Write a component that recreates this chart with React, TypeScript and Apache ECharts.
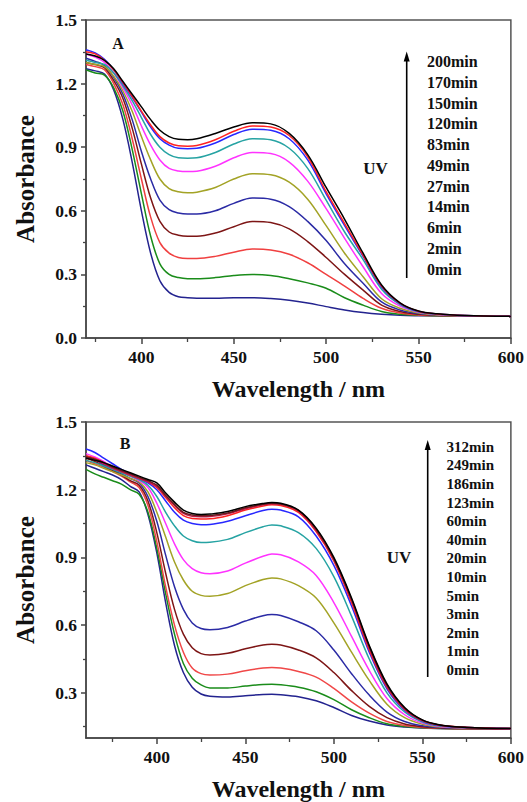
import React, { useEffect, useRef } from 'react';
import * as echarts from 'echarts';

// ---------- Panel A data ----------
const WL_A = [370,375,380,385,390,395,400,405,410,415,420,425,430,440,450,460,470,480,490,500,510,520,530,540,550,560,575,600];
const A_0 = [1.27,1.26,1.245,1.17,1.03,0.83,0.60,0.40,0.27,0.215,0.195,0.19,0.188,0.188,0.19,0.19,0.186,0.178,0.165,0.148,0.132,0.12,0.112,0.107,0.105,0.104,0.103,0.102];
const A_2 = [1.265,1.25,1.24,1.18,1.07,0.89,0.68,0.48,0.35,0.30,0.285,0.28,0.28,0.285,0.295,0.30,0.295,0.28,0.26,0.235,0.19,0.155,0.125,0.112,0.107,0.105,0.103,0.102];
const A_6 = [1.29,1.28,1.265,1.20,1.10,0.94,0.75,0.57,0.45,0.40,0.38,0.375,0.375,0.385,0.405,0.42,0.415,0.395,0.355,0.30,0.245,0.187,0.14,0.118,0.109,0.106,0.104,0.102];
const A_14 = [1.30,1.29,1.275,1.215,1.13,0.99,0.82,0.66,0.55,0.50,0.485,0.48,0.48,0.495,0.525,0.55,0.545,0.515,0.455,0.38,0.30,0.226,0.155,0.125,0.112,0.107,0.104,0.102];
const A_27 = [1.32,1.305,1.285,1.23,1.15,1.03,0.88,0.75,0.65,0.605,0.59,0.585,0.585,0.60,0.635,0.66,0.655,0.62,0.55,0.46,0.35,0.258,0.17,0.132,0.115,0.108,0.104,0.102];
const A_49 = [1.30,1.29,1.28,1.235,1.165,1.07,0.95,0.84,0.75,0.705,0.69,0.685,0.688,0.71,0.75,0.775,0.77,0.735,0.655,0.53,0.40,0.289,0.185,0.14,0.118,0.109,0.105,0.102];
const A_83 = [1.34,1.325,1.30,1.25,1.18,1.10,1.00,0.91,0.84,0.80,0.788,0.785,0.787,0.81,0.85,0.875,0.87,0.83,0.74,0.61,0.47,0.336,0.21,0.15,0.121,0.111,0.105,0.102];
const A_120 = [1.31,1.30,1.29,1.25,1.19,1.12,1.04,0.96,0.90,0.865,0.85,0.848,0.85,0.875,0.915,0.94,0.935,0.895,0.80,0.65,0.50,0.37,0.23,0.158,0.124,0.112,0.106,0.102];
const A_150 = [1.36,1.345,1.315,1.265,1.20,1.135,1.065,0.995,0.94,0.91,0.895,0.893,0.895,0.92,0.96,0.985,0.98,0.94,0.84,0.68,0.53,0.385,0.24,0.162,0.125,0.113,0.106,0.102];
const A_170 = [1.35,1.34,1.31,1.265,1.205,1.14,1.07,1.005,0.95,0.92,0.907,0.905,0.908,0.935,0.975,1.00,0.995,0.955,0.855,0.69,0.54,0.39,0.245,0.164,0.126,0.113,0.106,0.102];
const A_200 = [1.34,1.33,1.31,1.27,1.21,1.15,1.09,1.03,0.98,0.95,0.937,0.935,0.94,0.965,0.995,1.015,1.01,0.965,0.865,0.71,0.56,0.40,0.25,0.166,0.127,0.114,0.106,0.102];
const A_NAMES = ['0min','2min','6min','14min','27min','49min','83min','120min','150min','170min','200min'];
const A_SERIES = [A_0,A_2,A_6,A_14,A_27,A_49,A_83,A_120,A_150,A_170,A_200];
const A_COLORS = ['#23238f','#1a8c1a','#f04040','#7d1515','#2b2ba5','#a3a326','#ff33ff','#26a3a3','#2828ff','#ff2222','#000000'];

// ---------- Panel B data ----------
const WL_B = [360,365,370,375,380,385,390,395,400,405,410,415,420,425,430,440,450,460,465,470,480,490,500,510,520,530,540,550,560,575,600];
const B_0 = [1.31,1.295,1.28,1.265,1.245,1.215,1.19,1.09,0.92,0.70,0.51,0.39,0.325,0.295,0.285,0.282,0.287,0.293,0.294,0.292,0.283,0.265,0.235,0.20,0.175,0.158,0.149,0.144,0.142,0.141,0.14];
const B_1 = [1.29,1.27,1.255,1.24,1.225,1.20,1.18,1.10,0.94,0.74,0.56,0.43,0.365,0.335,0.322,0.322,0.33,0.337,0.338,0.336,0.325,0.305,0.27,0.225,0.19,0.163,0.151,0.145,0.142,0.141,0.14];
const B_2 = [1.33,1.315,1.30,1.28,1.26,1.235,1.21,1.13,0.97,0.77,0.60,0.48,0.41,0.385,0.379,0.383,0.398,0.41,0.412,0.41,0.395,0.37,0.32,0.26,0.21,0.173,0.155,0.147,0.143,0.141,0.14];
const B_3 = [1.34,1.325,1.305,1.285,1.265,1.24,1.22,1.15,1.01,0.83,0.67,0.56,0.50,0.474,0.468,0.475,0.495,0.512,0.515,0.512,0.49,0.455,0.39,0.31,0.24,0.19,0.162,0.15,0.144,0.142,0.14];
const B_5 = [1.35,1.335,1.31,1.29,1.27,1.25,1.23,1.17,1.06,0.91,0.77,0.67,0.61,0.585,0.58,0.59,0.618,0.642,0.647,0.643,0.615,0.575,0.49,0.385,0.29,0.215,0.173,0.154,0.146,0.143,0.141];
const B_10 = [1.32,1.31,1.295,1.28,1.265,1.25,1.235,1.19,1.10,0.99,0.88,0.80,0.75,0.732,0.728,0.74,0.775,0.802,0.809,0.805,0.775,0.72,0.61,0.48,0.355,0.25,0.19,0.161,0.149,0.144,0.141];
const B_20 = [1.36,1.345,1.325,1.30,1.28,1.26,1.24,1.21,1.14,1.05,0.96,0.89,0.85,0.832,0.828,0.84,0.875,0.905,0.915,0.912,0.88,0.82,0.70,0.55,0.40,0.275,0.203,0.166,0.151,0.145,0.141];
const B_40 = [1.33,1.32,1.305,1.29,1.275,1.26,1.245,1.22,1.17,1.10,1.04,0.995,0.974,0.966,0.967,0.98,1.01,1.036,1.044,1.04,1.01,0.94,0.815,0.64,0.45,0.30,0.215,0.171,0.153,0.146,0.142];
const B_60 = [1.38,1.365,1.34,1.315,1.29,1.27,1.25,1.23,1.20,1.15,1.10,1.065,1.05,1.045,1.046,1.06,1.085,1.108,1.114,1.11,1.08,0.995,0.865,0.685,0.48,0.318,0.223,0.175,0.155,0.146,0.142];
const B_123 = [1.35,1.34,1.32,1.30,1.28,1.265,1.25,1.235,1.21,1.165,1.12,1.085,1.072,1.07,1.071,1.085,1.11,1.128,1.133,1.13,1.1,1.015,0.885,0.70,0.49,0.325,0.227,0.177,0.156,0.147,0.142];
const B_186 = [1.34,1.33,1.315,1.295,1.28,1.265,1.25,1.235,1.215,1.17,1.13,1.095,1.082,1.08,1.081,1.093,1.116,1.133,1.138,1.135,1.105,1.02,0.89,0.71,0.50,0.33,0.23,0.178,0.157,0.147,0.142];
const B_249 = [1.345,1.335,1.32,1.30,1.285,1.27,1.255,1.24,1.22,1.175,1.135,1.10,1.088,1.085,1.086,1.097,1.12,1.136,1.14,1.137,1.108,1.025,0.895,0.715,0.505,0.335,0.232,0.179,0.157,0.147,0.142];
const B_312 = [1.34,1.33,1.32,1.305,1.29,1.275,1.26,1.245,1.23,1.185,1.145,1.11,1.095,1.09,1.092,1.103,1.125,1.139,1.143,1.14,1.11,1.03,0.90,0.72,0.51,0.34,0.235,0.18,0.158,0.147,0.142];
const B_NAMES = ['0min','1min','2min','3min','5min','10min','20min','40min','60min','123min','186min','249min','312min'];
const B_SERIES = [B_0,B_1,B_2,B_3,B_5,B_10,B_20,B_40,B_60,B_123,B_186,B_249,B_312];
const B_COLORS = ['#23238f','#1a8c1a','#f04848','#7d1515','#2b2ba5','#a3a326','#ff33ff','#26a3a3','#2828ff','#ff2222','#c01a50','#6a1a1a','#000000'];

// ---------- Ticks ----------
const X_MAJOR = [400,450,500,550,600];
const X_MINOR = [375,425,475,525,575];
const YA_MAJOR = [0,0.3,0.6,0.9,1.2,1.5];
const YA_MINOR = [0.15,0.45,0.75,1.05,1.35];
const YB_MAJOR = [0.3,0.6,0.9,1.2,1.5];
const YB_MINOR = [0.15,0.45,0.75,1.05,1.35];

const FONT = "'Liberation Serif', 'Times New Roman', serif";
const AXIS_COLOR = '#444';
const TEXT_COLOR = '#111';

function xAxes(grid: number, min: number, max: number) {
  return [
    {
      type: 'value', gridIndex: grid, min, max, position: 'bottom',
      name: 'Wavelength / nm', nameLocation: 'middle', nameGap: 39,
      nameTextStyle: { fontFamily: FONT, fontWeight: 'bold', fontSize: 24, color: TEXT_COLOR },
      axisLine: { show: true, onZero: false, lineStyle: { color: AXIS_COLOR, width: 1.5 } },
      axisTick: { show: true, inside: false, length: 6, customValues: X_MAJOR, lineStyle: { color: AXIS_COLOR, width: 1.5 } },
      axisLabel: { show: true, customValues: X_MAJOR, margin: 10, fontFamily: FONT, fontWeight: 'bold', fontSize: 17.5, color: TEXT_COLOR },
      splitLine: { show: false },
    },
    {
      type: 'value', gridIndex: grid, min, max, position: 'bottom',
      axisLine: { show: false, onZero: false },
      axisTick: { show: true, inside: false, length: 4, customValues: X_MINOR, lineStyle: { color: AXIS_COLOR, width: 1.3 } },
      axisLabel: { show: false },
      splitLine: { show: false },
    },
  ];
}

function yAxes(grid: number, min: number, max: number, major: number[], minor: number[]) {
  return [
    {
      type: 'value', gridIndex: grid, min, max, position: 'left',
      name: 'Absorbance', nameLocation: 'middle', nameGap: 48, nameRotate: 90,
      nameTextStyle: { fontFamily: FONT, fontWeight: 'bold', fontSize: 25, color: TEXT_COLOR },
      axisLine: { show: true, onZero: false, lineStyle: { color: AXIS_COLOR, width: 1.5 } },
      axisTick: { show: true, inside: false, length: 5, customValues: major, lineStyle: { color: AXIS_COLOR, width: 1.5 } },
      axisLabel: { show: true, customValues: major, margin: 9, fontFamily: FONT, fontWeight: 'bold', fontSize: 17.5, color: TEXT_COLOR, formatter: (v: number) => v.toFixed(1) },
      splitLine: { show: false },
    },
    {
      type: 'value', gridIndex: grid, min, max, position: 'left',
      axisLine: { show: false, onZero: false },
      axisTick: { show: true, inside: false, length: 3, customValues: minor, lineStyle: { color: AXIS_COLOR, width: 1.3 } },
      axisLabel: { show: false },
      splitLine: { show: false },
    },
  ];
}

function makeSeries(wl: number[], list: number[][], names: string[], colors: string[], axis: number) {
  return list.map((vals, i) => ({
    type: 'line',
    name: names[i],
    xAxisIndex: axis,
    yAxisIndex: axis,
    data: wl.map((w, j) => [w, vals[j]]),
    showSymbol: false,
    symbol: 'none',
    smooth: 0.35,
    lineStyle: { color: colors[i], width: 1.5 },
    itemStyle: { color: colors[i] },
    z: 2 + i,
  }));
}

function txt(text: string, x: number, y: number, size: number, align = 'left') {
  return {
    type: 'text', x, y, z: 100,
    style: {
      text, fill: TEXT_COLOR, fontFamily: FONT, fontWeight: 'bold', fontSize: size,
      align, verticalAlign: 'middle', textAlign: align, textVerticalAlign: 'middle',
    },
  };
}

function arrow(x: number, yTip: number, yBottom: number) {
  return [
    { type: 'line', z: 100, shape: { x1: x, y1: yTip + 8, x2: x, y2: yBottom }, style: { stroke: '#000', lineWidth: 1.6 } },
    { type: 'polygon', z: 100, shape: { points: [[x, yTip], [x - 3, yTip + 10], [x + 3, yTip + 10]] }, style: { fill: '#000' } },
  ];
}

const LEG_A = [...A_NAMES].reverse();
const LEG_B = [...B_NAMES].reverse();

export default function App() {
  const ref = useRef<HTMLDivElement>(null);
  useEffect(() => {
    const chart = echarts.init(ref.current!, null, { renderer: 'svg' });
    const graphic: any[] = [];
    graphic.push(txt('A', 118, 43, 16, 'center'));
    graphic.push(txt('B', 125, 443, 16, 'center'));
    graphic.push(txt('UV', 375.5, 168, 17, 'center'));
    graphic.push(txt('UV', 399, 557, 17, 'center'));
    LEG_A.forEach((t, i) => graphic.push(txt(t, 427, 61.5 + i * 20.75, 16)));
    LEG_B.forEach((t, i) => graphic.push(txt(t, 446.5, 446.7 + i * 18.6, 15)));
    graphic.push(...arrow(406.7, 51.5, 278));
    graphic.push(...arrow(427.7, 440, 677));

    chart.setOption({
      animation: false,
      backgroundColor: '#ffffff',
      grid: [
        { left: 86, top: 20, width: 426, height: 318, show: true, borderColor: '#555', borderWidth: 1.5, backgroundColor: 'transparent' },
        { left: 86, top: 422, width: 426, height: 317, show: true, borderColor: '#555', borderWidth: 1.5, backgroundColor: 'transparent' },
      ],
      xAxis: [...xAxes(0, 370, 600), ...xAxes(1, 360, 600)],
      yAxis: [...yAxes(0, 0, 1.5, YA_MAJOR, YA_MINOR), ...yAxes(1, 0.1, 1.5, YB_MAJOR, YB_MINOR)],
      series: [
        ...makeSeries(WL_A, A_SERIES, A_NAMES, A_COLORS, 0),
        ...makeSeries(WL_B, B_SERIES, B_NAMES, B_COLORS, 2),
      ],
      graphic,
    });
    return () => chart.dispose();
  }, []);
  return <div ref={ref} style={{ position: 'absolute', left: 0, top: 0, width: 527, height: 802, background: '#fff' }} />;
}
